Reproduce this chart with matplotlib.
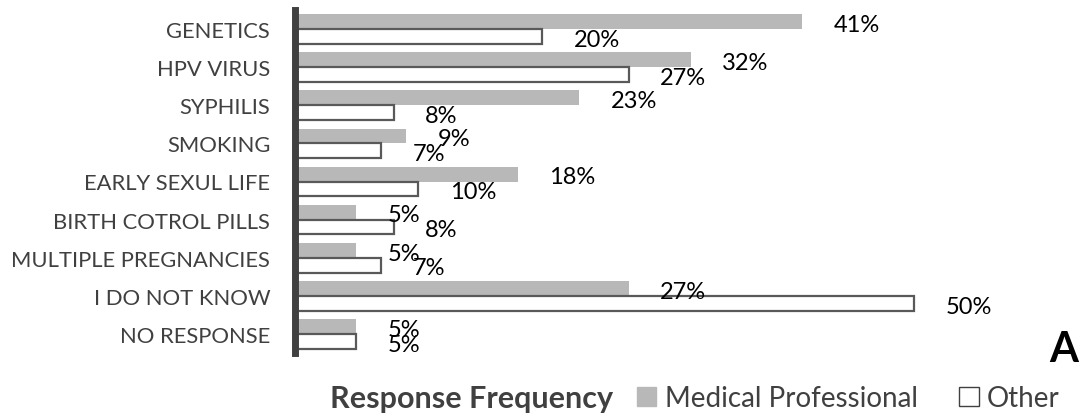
import numpy as np
import matplotlib.pyplot as plt
from matplotlib.patches import Patch

categories = ["GENETICS", "HPV VIRUS", "SYPHILIS", "SMOKING", "EARLY SEXUL LIFE",
              "BIRTH COTROL PILLS", "MULTIPLE PREGNANCIES", "I DO NOT KNOW", "NO RESPONSE"]
medical = [41, 32, 23, 9, 18, 5, 5, 27, 5]
other = [20, 27, 8, 7, 10, 8, 7, 50, 5]

plt.rcParams['font.family'] = ['Lato', 'DejaVu Sans']

fig = plt.figure(figsize=(10.8, 4.14), dpi=100)
ax = fig.add_axes([294.5 / 1080, 1 - 354 / 414, 60 * 12.39 / 1080, 343 / 414])

y = np.arange(len(categories))
h = 0.39
gray = '#b8b8b8'
edge = '#595959'

ax.barh(y - h / 2, medical, height=h, color=gray, zorder=2)
ax.barh(y + h / 2, other, height=h, color='white', edgecolor=edge, linewidth=1.6, zorder=2)

# value labels sit a fixed distance past the end of each bar
for yi, v in zip(y, medical):
    ax.annotate(f"{v}%", (v, yi - h / 2), xytext=(22.5, -2), textcoords='offset points',
                ha='left', va='center', fontsize=17, color='black', zorder=3)
for yi, v in zip(y, other):
    ax.annotate(f"{v}%", (v, yi + h / 2), xytext=(22.5, -2), textcoords='offset points',
                ha='left', va='center', fontsize=17, color='black', zorder=3)

ax.set_xlim(0, 60)
ax.set_ylim(len(categories) - 0.5, -0.5)
ax.set_yticks(y)
ax.set_yticklabels(categories, fontsize=15.8, color='#404040')
ax.tick_params(axis='y', length=0, pad=17.5)
ax.set_xticks([])
for side in ['top', 'right', 'bottom']:
    ax.spines[side].set_visible(False)
ax.spines['left'].set_linewidth(5)
ax.spines['left'].set_color('#404040')
ax.spines['left'].set_zorder(4)

fig.text(330 / 1080, 1 - 399 / 414, "Response Frequency", fontsize=22, fontweight='bold',
         color='#404040', ha='left', va='center')

handles = [Patch(facecolor=gray, edgecolor=gray), Patch(facecolor='white', edgecolor='#404040', linewidth=1)]
fig.legend(handles, ["Medical Professional", "Other"], loc='center left',
           bbox_to_anchor=(612 / 1080, 1 - 399 / 414), ncol=2, frameon=False,
           fontsize=20, handlelength=0.7, handleheight=0.7, handletextpad=0.3,
           columnspacing=1.5, labelcolor='#404040')

fig.text(1064 / 1080, 1 - 350 / 414, "A", fontsize=30, fontweight='bold', ha='center', va='center')

fig.savefig("out.png", dpi=100)
